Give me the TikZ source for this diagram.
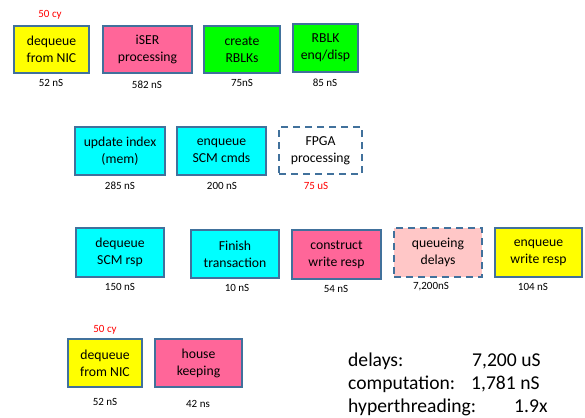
\documentclass[tikz,border=0pt]{standalone}
\usepackage{fontspec}
\setmainfont{Carlito}
\usetikzlibrary{arrows.meta}
\tikzset {>=Stealth}
\definecolor{edge}{HTML}{41719C}
\definecolor{nic}{HTML}{FFFF00}
\definecolor{proto}{HTML}{FF6699}
\definecolor{rblk}{HTML}{00FF00}
\definecolor{scm}{HTML}{00FFFF}
\definecolor{wait}{HTML}{FFC7C7}
\definecolor{note}{HTML}{FF0000}
\tikzset{
  stage/.style={draw=edge, line width=1.8pt, align=center, inner sep=0pt,
    minimum height=47, font=\fontsize{13.7}{17}\selectfont},
  delay/.style={stage, dash pattern=on 7pt off 5pt},
  cost/.style={font=\fontsize{11}{13}\selectfont},
  sum/.style={anchor=base west, inner sep=0pt, font=\fontsize{19.6}{23.5}\selectfont}
}

\begin{document}
\begin{tikzpicture}[x=1pt,y=-1pt]
\useasboundingbox (0,0) rectangle (585,417);
% receive path
\node[cost, text=note] (cy1) at (50,15) {50 cy};
\node[stage, fill=nic, minimum width=75] (nic1) at (51.5,49.5) {dequeue\\from NIC};
\node[stage, fill=proto, minimum width=89] (iser) at (147.5,49.5) {iSER\\processing};
\node[stage, fill=rblk, minimum width=76] (mkrb) at (242,49.5) {create\\RBLKs};
\node[stage, fill=rblk, minimum width=65, minimum height=48] (rbq) at (325.5,48) {RBLK\\enq/disp};
\node[cost] (t1) at (51,83) {52 nS};
\node[cost] (t2) at (147,85) {582 nS};
\node[cost] (t3) at (242,83) {75nS};
\node[cost] (t4) at (325,83) {85 nS};
% index and SCM
\node[stage, fill=scm, minimum width=90, minimum height=48] (idx) at (120,151) {update index\\(mem)};
\node[stage, fill=scm, minimum width=89, minimum height=48] (scmq) at (221.5,151) {enqueue\\SCM cmds};
\node[delay, minimum width=83] (fpga) at (320.5,150.5) {FPGA\\processing};
\node[cost] (t5) at (120,186) {285 nS};
\node[cost] (t6) at (222,186) {200 nS};
\node[cost, text=note] (t7) at (316,186) {75 uS};
% response path
\node[stage, fill=scm, minimum width=88, minimum height=49] (scmr) at (120,252.5) {dequeue\\SCM rsp};
\node[stage, fill=scm, minimum width=88, minimum height=48] (fin) at (235,254) {Finish\\transaction};
\node[stage, fill=proto, minimum width=89, minimum height=49] (wr) at (336.5,254.5) {construct\\write resp};
\node[delay, fill=wait, minimum width=88, minimum height=49] (qd) at (438,252.5) {queueing\\delays};
\node[stage, fill=nic, minimum width=87, minimum height=49] (wrq) at (538.5,252.5) {enqueue\\write resp};
\node[cost] (t8) at (120,287) {150 nS};
\node[cost] (t9) at (237,288) {10 nS};
\node[cost] (t10) at (336,289) {54 nS};
\node[cost] (t11) at (431,287) {7,200nS};
\node[cost] (t12) at (533,287) {104 nS};
% second request
\node[cost, text=note] (cy2) at (105,330) {50 cy};
\node[stage, fill=nic, minimum width=74, minimum height=48] (nic2) at (105,363) {dequeue\\from NIC};
\node[stage, fill=proto, minimum width=87, minimum height=48] (hk) at (198.5,363) {house\\keeping};
\node[cost] (t13) at (105,402) {52 nS};
\node[cost] (t14) at (198,404) {42 ns};
% totals
\node[sum] (dl) at (348,366) {delays:};
\node[sum] (dv) at (472,366) {7,200 uS};
\node[sum] (cl) at (348,389) {computation:};
\node[sum] (cv) at (471,389) {1,781 nS};
\node[sum] (hl) at (348,412) {hyperthreading:};
\node[sum] (hv) at (514,412) {1.9x};
\end{tikzpicture}
\end{document}
